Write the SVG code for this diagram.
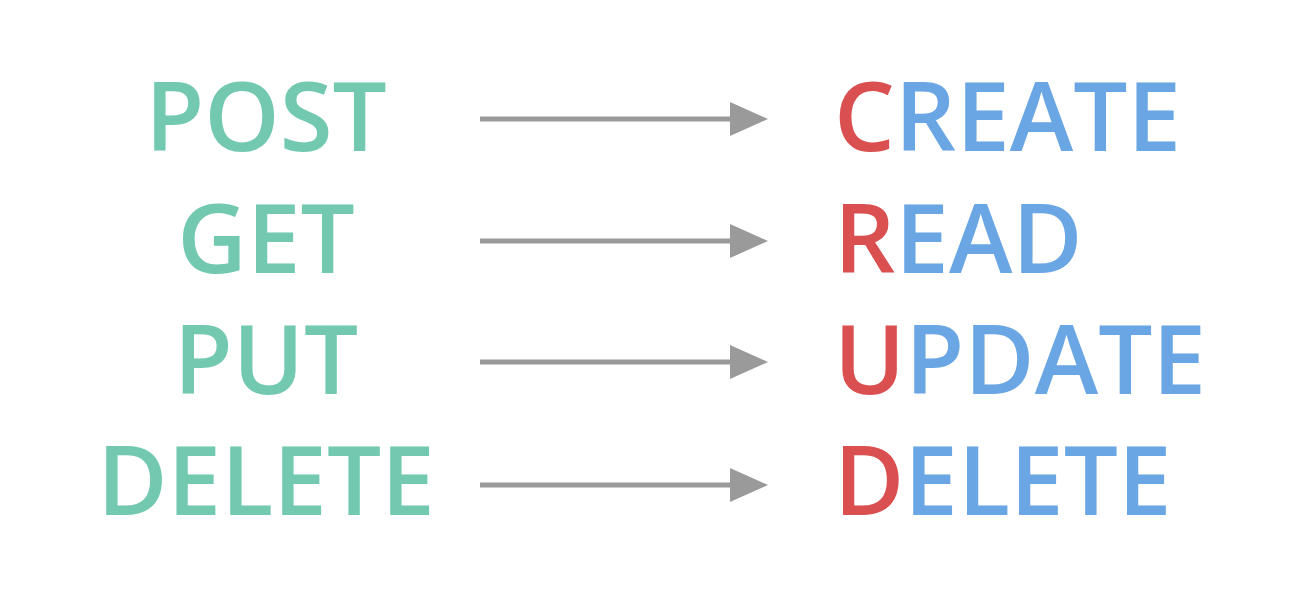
<svg xmlns="http://www.w3.org/2000/svg" width="1308" height="602" viewBox="0 0 1308 602">
<style>
.m{font-family:"Open Sans","Noto Sans","Liberation Sans",sans-serif;font-weight:600;font-size:96px;fill:#72C9B0;text-anchor:middle}
.c{font-family:"Open Sans","Noto Sans","Liberation Sans",sans-serif;font-weight:600;font-size:96px;fill:#6AA6E4}
.r{fill:#DA4F50}
.a{stroke:#9A9A9A;stroke-width:5;fill:none}
</style>
<defs>
<marker id="ah" markerUnits="userSpaceOnUse" markerWidth="38" markerHeight="34" refX="0" refY="17" orient="auto">
<path d="M0,0 L38,17 L0,34 Z" fill="#9A9A9A"/>
</marker>
</defs>
<rect width="1308" height="602" fill="#FFFFFF"/>
<g id="post"><text class="m" x="266" y="151">POST</text></g>
<g id="get"><text class="m" x="266" y="273">GET</text></g>
<g id="put"><text class="m" x="266" y="394">PUT</text></g>
<g id="delete-m"><text class="m" x="266" y="515">DELETE</text></g>
<g id="create"><text class="c" x="834" y="151"><tspan class="r">C</tspan>REATE</text></g>
<g id="read"><text class="c" x="834" y="273"><tspan class="r">R</tspan>EAD</text></g>
<g id="update"><text class="c" x="834" y="394"><tspan class="r">U</tspan>PDATE</text></g>
<g id="delete-c"><text class="c" x="834" y="515"><tspan class="r">D</tspan>ELETE</text></g>
<g id="connectors">
<line class="a" x1="480" y1="119" x2="730" y2="119" marker-end="url(#ah)"/>
<line class="a" x1="480" y1="241" x2="730" y2="241" marker-end="url(#ah)"/>
<line class="a" x1="480" y1="362" x2="730" y2="362" marker-end="url(#ah)"/>
<line class="a" x1="480" y1="485" x2="730" y2="485" marker-end="url(#ah)"/>
</g>
</svg>
